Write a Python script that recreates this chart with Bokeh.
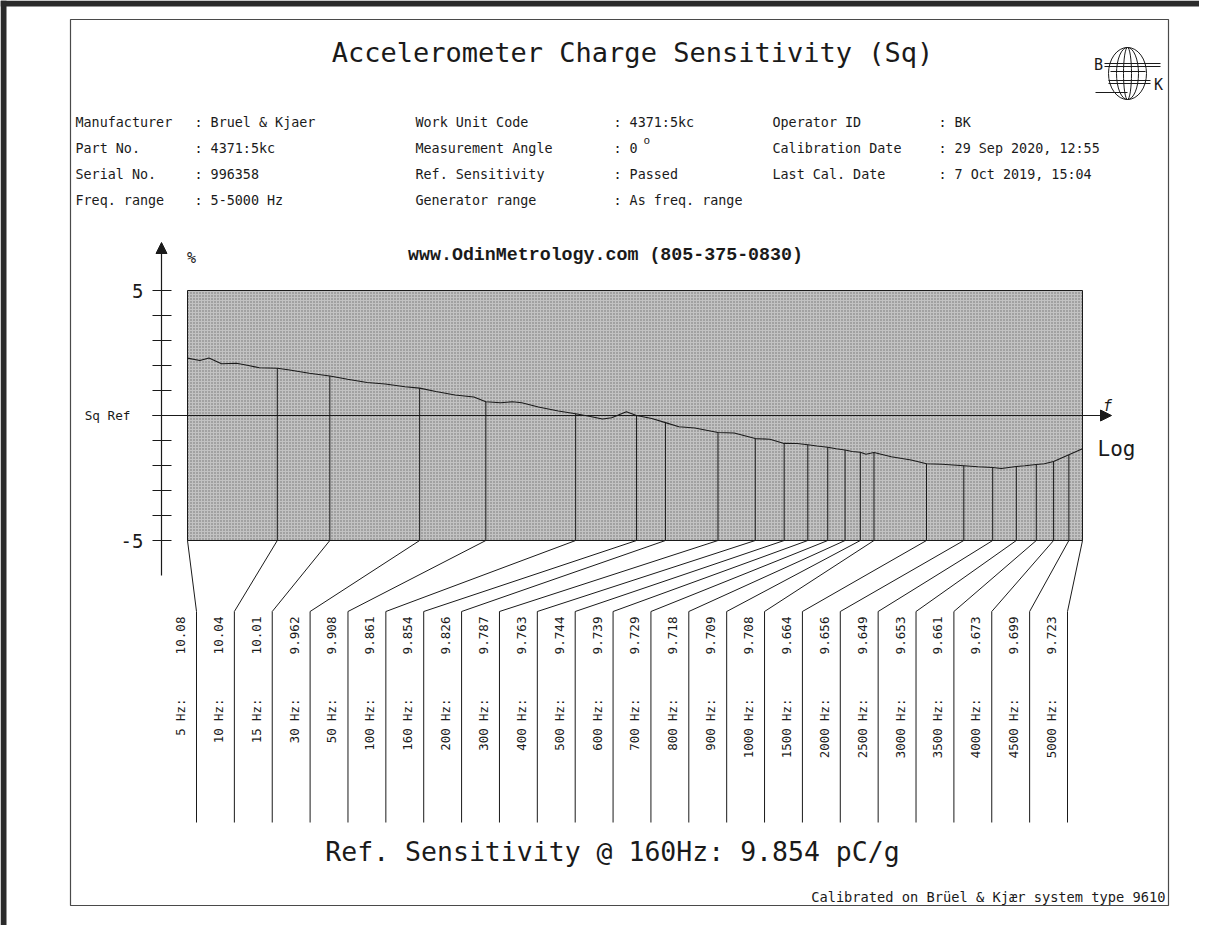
import math
from bokeh.plotting import figure
from bokeh.models import Range1d, LinearScale, Arrow, NormalHead
from bokeh.core.properties import value
from bokeh.embed import file_html
from bokeh.resources import INLINE

# ---------------- data ----------------
freqs_hz = [5, 10, 15, 30, 50, 100, 160, 200, 300, 400, 500, 600, 700, 800, 900,
            1000, 1500, 2000, 2500, 3000, 3500, 4000, 4500, 5000]
sensitivity_pc_g = [10.08, 10.04, 10.01, 9.962, 9.908, 9.861, 9.854, 9.826, 9.787,
                    9.763, 9.744, 9.739, 9.729, 9.718, 9.709, 9.708, 9.664, 9.656,
                    9.649, 9.653, 9.661, 9.673, 9.699, 9.723]
ref_freq_hz = 160
ref_sensitivity = 9.854

# continuous trace read between the calibration points (Hz, % deviation)
trace_freq_hz = [5.5, 5.9, 6.5, 7.3, 8.0, 8.7, 11.0, 12.8, 17.2, 20, 23, 26.8,
                 34, 39.4, 45.6, 56, 61.4, 66, 75, 87.5, 111, 123, 132, 148,
                 180, 222, 251, 340, 448, 553, 644, 747, 845, 940, 1143, 1332,
                 1695, 2229, 2673, 3206, 3725]
trace_dev_pct = [2.20, 2.30, 2.07, 2.09, 2.00, 1.91, 1.82, 1.69, 1.45, 1.32, 1.26, 1.15,
                 0.96, 0.82, 0.74, 0.51, 0.55, 0.51, 0.34, 0.18, -0.03, -0.14, -0.09, 0.15,
                 -0.12, -0.45, -0.50, -0.70, -0.95, -1.12, -1.22, -1.33, -1.44, -1.55, -1.65, -1.78,
                 -1.95, -2.05, -2.12, -2.01, -1.93]

y_ticks_pct = [-5, -4, -3, -2, -1, 0, 1, 2, 3, 4, 5]
y_label_values = [5, 0, -5]
y_label_texts = ["5", "Sq Ref", "-5"]

info_labels_1 = ["Manufacturer", "Part No.", "Serial No.", "Freq. range"]
info_values_1 = [": Bruel & Kjaer", ": 4371:5kc", ": 996358", ": 5-5000 Hz"]
info_labels_2 = ["Work Unit Code", "Measurement Angle", "Ref. Sensitivity", "Generator range"]
info_values_2 = [": 4371:5kc", ": 0", ": Passed", ": As freq. range"]
info_labels_3 = ["Operator ID", "Calibration Date", "Last Cal. Date"]
info_values_3 = [": BK", ": 29 Sep 2020, 12:55", ":  7 Oct 2019, 15:04"]

title_text = "Accelerometer Charge Sensitivity (Sq)"
subtitle_text = "www.OdinMetrology.com (805-375-0830)"
footer_text = "Calibrated on Br\u00fcel & Kj\u00e6r system type 9610"

# ---------------- layout ----------------
W, H = 1199, 925
PX0, PY0 = 0, 0                       # picture offset of the figure
PL, PR, PT, PB = 187, 1082, 290, 540  # plot area (picture px)
Y_MIN, Y_MAX = -5, 5
F_MIN, F_MAX = freqs_hz[0], freqs_hz[-1]
dec_px = (PR - PL) / math.log10(F_MAX / F_MIN)
pct_px = (PB - PT) / (Y_MAX - Y_MIN)

x_start = 10 ** (math.log10(F_MIN) - (PL - PX0) / dec_px)
x_end = 10 ** (math.log10(F_MAX) + (PX0 + W - PR) / dec_px)
y_start = Y_MIN - (PY0 + H - PB) / pct_px
y_end = Y_MAX + (PT - PY0) / pct_px

p = figure(width=W, height=H, x_axis_type="log",
           x_range=Range1d(x_start, x_end), y_range=Range1d(y_start, y_end),
           output_backend="svg", toolbar_location=None, min_border=0,
           x_axis_location=None, y_axis_location=None)
p.extra_x_ranges = {"px": Range1d(PX0, PX0 + W)}
p.extra_y_ranges = {"py": Range1d(PY0 + H, PY0)}
p.extra_x_scales = {"px": LinearScale()}
p.extra_y_scales = {"py": LinearScale()}
p.outline_line_color = None
p.xgrid.visible = False
p.ygrid.visible = False
p.background_fill_color = "white"
p.border_fill_color = "white"

INK = "#1a1a1a"
FONT = value("DejaVu Sans Mono")
PXY = dict(x_range_name="px", y_range_name="py")


def page_x(f):
    return PL + math.log10(f / F_MIN) * dec_px


# scan edge bands
p.quad(left=[0, 0], right=[W, 6], top=[0, 0], bottom=[6, H],
       fill_color="#2b2b2b", line_color=None, **PXY)
# page frame
p.quad(left=[70], right=[1168], top=[19], bottom=[905], fill_color=None,
       line_color="#4a4a4a", line_width=1.2, **PXY)

# title
p.text(x=[632], y=[52], text=[title_text], text_font=FONT, text_font_size="27px",
       text_align="center", text_baseline="middle", text_color=INK, **PXY)

# B&K logo
p.ellipse(x=[1127], y=[73], width=[38], height=[52], fill_color=None, line_color=INK, line_width=1, **PXY)
p.ellipse(x=[1127], y=[73], width=[22], height=[52], fill_color=None, line_color=INK, line_width=1, **PXY)
p.ellipse(x=[1127], y=[73], width=[8], height=[52], fill_color=None, line_color=INK, line_width=1, **PXY)
p.segment(x0=[1104, 1104, 1110, 1108, 1108, 1095], y0=[63, 66, 71, 80, 83, 92],
          x1=[1160, 1160, 1145, 1150, 1150, 1127], y1=[63, 66, 71, 80, 83, 92],
          line_color=INK, line_width=1, **PXY)
p.text(x=[1098, 1158], y=[64, 84], text=["B", "K"], text_font=FONT, text_font_size="15px",
       text_align="center", text_baseline="middle", text_color=INK, **PXY)

# info block
rows_y = [122, 148, 174, 200]
for lx, vx, labs, vals in [(75, 194, info_labels_1, info_values_1),
                           (415, 613, info_labels_2, info_values_2),
                           (772, 938, info_labels_3, info_values_3)]:
    ys = rows_y[:len(labs)]
    p.text(x=[lx] * len(labs), y=ys, text=labs, text_font=FONT, text_font_size="13.4px",
           text_baseline="middle", text_color=INK, **PXY)
    p.text(x=[vx] * len(vals), y=ys, text=vals, text_font=FONT, text_font_size="13.4px",
           text_baseline="middle", text_color=INK, **PXY)
p.text(x=[643], y=[140], text=["o"], text_font=FONT, text_font_size="11px",
       text_baseline="middle", text_color=INK, **PXY)

# subtitle
p.text(x=[605], y=[254], text=[subtitle_text], text_font=value("Liberation Mono"),
       text_font_size="18.3px", text_font_style="bold", text_align="center",
       text_baseline="middle", text_color=INK, **PXY)

# plot area (stippled)
p.quad(left=[F_MIN], right=[F_MAX], bottom=[Y_MIN], top=[Y_MAX],
       fill_color="#c2c2c2", hatch_pattern=".", hatch_color="#707070",
       hatch_scale=3, hatch_weight=1, line_color=INK, line_width=1)

# deviation of each calibration point from the reference
dev_pct = [(s / ref_sensitivity - 1) * 100 for s in sensitivity_pc_g]

# vertical drop lines from curve to bottom of plot area
p.segment(x0=freqs_hz, y0=dev_pct, x1=freqs_hz, y1=[Y_MIN] * len(freqs_hz),
          line_color=INK, line_width=1)

# continuous curve
pts = sorted(list(zip(freqs_hz, dev_pct)) + list(zip(trace_freq_hz, trace_dev_pct)))
p.line(x=[a for a, _ in pts], y=[b for _, b in pts], line_color=INK, line_width=1.1)

# y axis
p.segment(x0=[161], y0=[575], x1=[161], y1=[250], line_color=INK, line_width=1.2, **PXY)
p.add_layout(Arrow(end=NormalHead(size=11, fill_color=INK, line_color=INK), line_color=INK,
                   x_start=161, y_start=260, x_end=161, y_end=242, **PXY))
p.segment(x0=[152] * len(y_ticks_pct), x1=[171] * len(y_ticks_pct), y0=y_ticks_pct, y1=y_ticks_pct,
          line_color=INK, line_width=1.2, x_range_name="px")
p.text(x=[143, 130, 143], y=y_label_values, text=y_label_texts, text_font=FONT,
       text_font_size=["19px", "12.7px", "19px"], text_align="right", text_baseline="middle",
       text_color=INK, x_range_name="px")
p.text(x=[191], y=[257], text=["%"], text_font=FONT, text_font_size="15px",
       text_align="center", text_baseline="middle", text_color=INK, **PXY)

# frequency axis (Sq Ref line)
p.segment(x0=[152], y0=[0], x1=[1100], y1=[0], line_color=INK, line_width=1.1, x_range_name="px")
p.add_layout(Arrow(end=NormalHead(size=11, fill_color=INK, line_color=INK), line_color=INK,
                   x_start=1090, y_start=0, x_end=1111, y_end=0, x_range_name="px"))
p.text(x=[1107], y=[405], text=["f"], text_font=FONT, text_font_size="15px",
       text_font_style="italic", text_align="center", text_baseline="middle",
       text_color=INK, **PXY)
p.text(x=[1097], y=[448], text=["Log"], text_font=FONT, text_font_size="21px",
       text_baseline="middle", text_color=INK, **PXY)

# fan of leader lines to the label columns
n = len(freqs_hz)
col_x = [196 + i * (1067 - 196) / (n - 1) for i in range(n)]
p.multi_line(xs=[[page_x(f), cx, cx] for f, cx in zip(freqs_hz, col_x)],
             ys=[[PB, 611, 822]] * n, line_color=INK, line_width=1, **PXY)

# rotated value and frequency labels
p.text(x=[cx - 16 for cx in col_x], y=[616] * n, text=[str(s) for s in sensitivity_pc_g],
       angle=math.pi / 2, text_font=FONT, text_font_size="12.6px", text_align="right",
       text_baseline="middle", text_color=INK, **PXY)
p.text(x=[cx - 16 for cx in col_x], y=[698] * n, text=[f"{f} Hz:" for f in freqs_hz],
       angle=math.pi / 2, text_font=FONT, text_font_size="12.4px", text_align="right",
       text_baseline="middle", text_color=INK, **PXY)

# reference sensitivity line and footer
p.text(x=[612], y=[851], text=[f"Ref. Sensitivity @ {ref_freq_hz}Hz: {ref_sensitivity} pC/g"],
       text_font=FONT, text_font_size="26.5px", text_align="center", text_baseline="middle",
       text_color=INK, **PXY)
p.text(x=[1165], y=[896], text=[footer_text], text_font=FONT, text_font_size="13.7px",
       text_align="right", text_baseline="middle", text_color=INK, **PXY)

open("out.html", "w").write(file_html(p, INLINE))
